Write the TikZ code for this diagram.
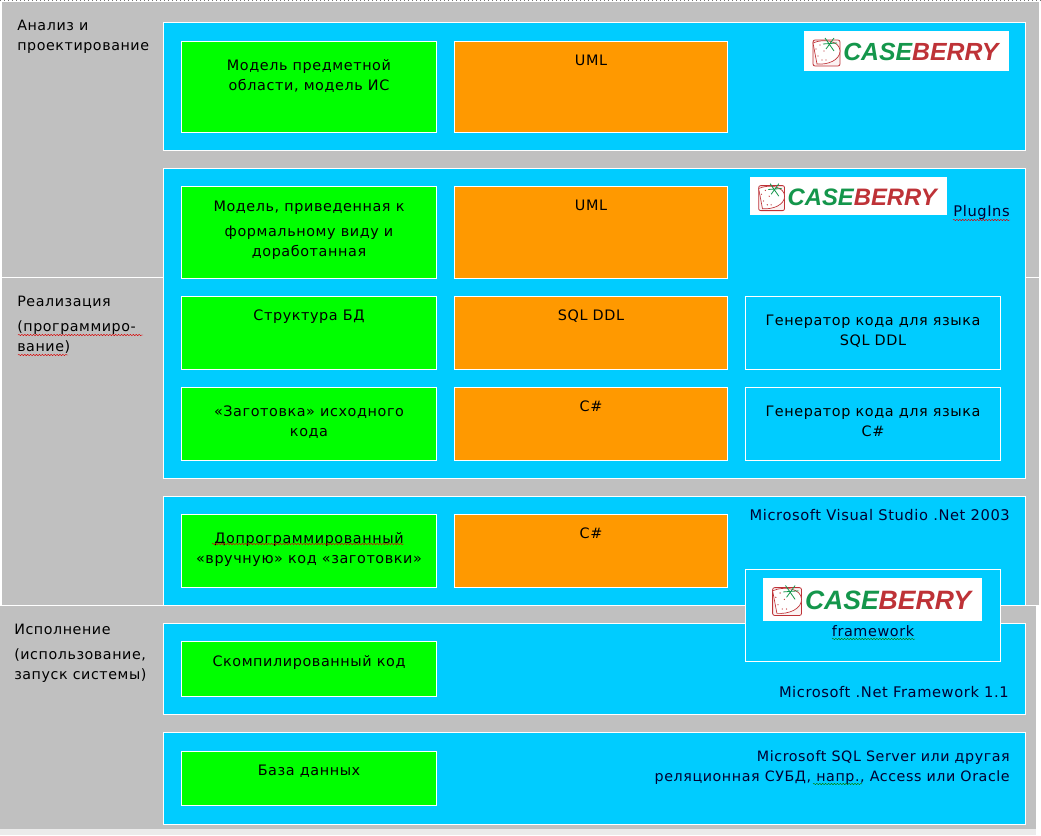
\documentclass[tikz,border=0pt]{standalone}
\usepackage{fontspec}
\setmainfont[LetterSpace=4]{DejaVu Sans}
\newfontfamily\logofont{Liberation Sans}
\usetikzlibrary{decorations.pathmorphing}
\definecolor{panel}{RGB}{192,192,192}
\definecolor{sky}{RGB}{0,204,255}
\definecolor{leaf}{RGB}{0,255,0}
\definecolor{amber}{RGB}{255,153,0}
\definecolor{berrygreen}{RGB}{20,150,75}
\definecolor{berryred}{RGB}{190,50,55}
\definecolor{ink}{RGB}{0,0,50}
\tikzset{x=0.75pt,y=-0.75pt,
  band/.style={draw=white,fill=sky,line width=0.75pt},
  cell/.style={draw=white,line width=0.6pt,text=black},
  lbl/.style={font=\fontsize{10.8}{15}\selectfont,align=center,text=black,inner sep=0pt},
  side/.style={font=\fontsize{10.7}{15}\selectfont,align=left,anchor=north west,text=black,inner sep=0pt},
  tool/.style={font=\fontsize{11}{15}\selectfont,align=right,anchor=north east,text=ink,inner sep=0pt},
  typo/.style={red!85!black,line width=0.35pt,decorate,decoration={snake,amplitude=0.5pt,segment length=2.2pt}},
  pics/logo/.style={code={
    \fill[white] (0,0) rectangle (#1*205,#1*40);
    \draw[berryred,line width=0.6pt,rounded corners=1.5pt,fill=berryred!6] (#1*9,#1*9) rectangle (#1*36,#1*35);
    \fill[white,draw=berryred,line width=0.5pt] (#1*9,#1*12) .. controls (#1*20,#1*7) and (#1*36,#1*10) .. (#1*36,#1*20) .. controls (#1*36,#1*29) and (#1*24,#1*34) .. (#1*13,#1*33) -- cycle;
    \foreach \a/\b in {12/18,16/14,14/25,18/29,22/29,20/20}
      \fill[berryred] (#1*\a,#1*\b) circle (0.5pt);
    \draw[berrygreen,line width=0.6pt] (#1*21,#1*7) -- (#1*30,#1*20) (#1*30,#1*7) -- (#1*22,#1*18) (#1*19,#1*13) -- (#1*33,#1*12);
    \pgfmathsetmacro{\logosize}{#1*18.6}
    \node[anchor=west,inner sep=0pt,font=\logofont\bfseries\itshape\fontsize{\logosize}{20}\selectfont] at (#1*39,#1*21) {\textcolor{berrygreen}{CASE}\textcolor{berryred}{BERRY}};
  }}}
\begin{document}
\begin{tikzpicture}
  \useasboundingbox (0,0) rectangle (1041,835);
  % page
  \fill[white] (0,0) rectangle (1041,835);
  \fill[panel] (2,2) rectangle (1039,605);
  \fill[panel] (0,605) rectangle (1036,829);
  \fill[black!8] (0,829) rectangle (1036,835);
  \draw[black!55,dotted,line width=1pt] (0,0.7) -- (1041,0.7);
  \draw[white,line width=0.75pt] (2,277) -- (1039,277);
  \draw[white,line width=0.75pt] (0,605) -- (1036,605);
  % bands
  \foreach \t/\b [count=\i] in {22/150,168/478,496/605,623/714,732/824}
    \node[band,anchor=north west,minimum width=646.75pt,minimum height={(\b-\t)*0.75pt},inner sep=0pt] (band\i) at (163,\t) {};
  % columns
  \foreach \n/\t/\b/\o/\s in {
    a/41/132/18/Модель предметной\\области{,} модель ИС,
    b/186/278/15/Модель{,} приведенная к\\[3.75pt]формальному виду и\\доработанная,
    c/296/369/14/Структура БД,
    d/387/460/19/«Заготовка» исходного\\кода,
    e/514/587/18/Допрограммированный\\«вручную» код «заготовки»,
    f/641/696/14/Скомпилированный код,
    g/751/805/14/База данных}
  {
    \node[cell,fill=leaf,anchor=north west,minimum width=191.5pt,minimum height={(\b-\t)*0.75pt},inner sep=0pt] (green\n) at (181,\t) {};
    \node[lbl,anchor=north] (text\n) at (309,\t+\o) {\s};
  }
  \foreach \n/\t/\b/\s in {a/41/132/UML,b/186/278/UML,c/296/369/SQL DDL,d/387/460/C\#,e/514/587/C\#}
  {
    \node[cell,fill=amber,anchor=north west,minimum width=205pt,minimum height={(\b-\t)*0.75pt},inner sep=0pt] (orange\n) at (454,\t) {};
    \node[lbl,anchor=north] (type\n) at (591,\t+14) {\s};
  }
  \foreach \n/\t/\b/\s in {c/296/369/Генератор кода для языка\\SQL DDL,d/387/460/Генератор кода для языка\\C\#}
  {
    \node[cell,fill=sky,anchor=north west,minimum width=191.5pt,minimum height={(\b-\t)*0.75pt},inner sep=0pt] (gen\n) at (745,\t) {};
    \node[lbl,anchor=north] (gentext\n) at (873,\t+19) {\s};
  }
  \node[cell,fill=sky,anchor=north west,minimum width=191.5pt,minimum height=69pt,inner sep=0pt] (fwbox) at (745,569) {};
  % logos
  \pic at (804,31) {logo=1};
  \pic at (750,177) {logo=0.96};
  \pic at (763,578) {logo=1.07};
  % side labels
  \node[side] (stage1) at (17,20) {Анализ и\\проектирование};
  \node[side] (stage2) at (17,296) {Реализация};
  \node[side] (stage2b) at (17,320.5) {(программиро-\\вание)};
  \node[side] (stage3) at (14,624) {Исполнение};
  \node[side] (stage3b) at (14,648.5) {(использование,\\запуск системы)};
  % tools
  \node[tool] (plugins) at (1010,205) {PlugIns};
  \node[tool] (vs) at (1010,509) {Microsoft Visual Studio .Net 2003};
  \node[lbl,text=ink,anchor=north] (fw) at (873,625) {framework};
  \node[tool] (net) at (1009,686) {Microsoft .Net Framework 1.1};
  \node[tool,font=\fontsize{10.7}{15}\selectfont] (sql) at (1010,750) {Microsoft SQL Server или другая\\реляционная СУБД{,} напр.{,} Access или Oracle};
  % spelling marks
  \foreach \a/\c/\y in {953/1010/220,18/143/335,18/68/355,212/404/544}
    \draw[typo] (\a,\y) -- (\c,\y);
  \draw[typo,green!50!black] (832,639) -- (915,639);
  \draw[typo,green!50!black] (813,784) -- (862,784);
\end{tikzpicture}
\end{document}
